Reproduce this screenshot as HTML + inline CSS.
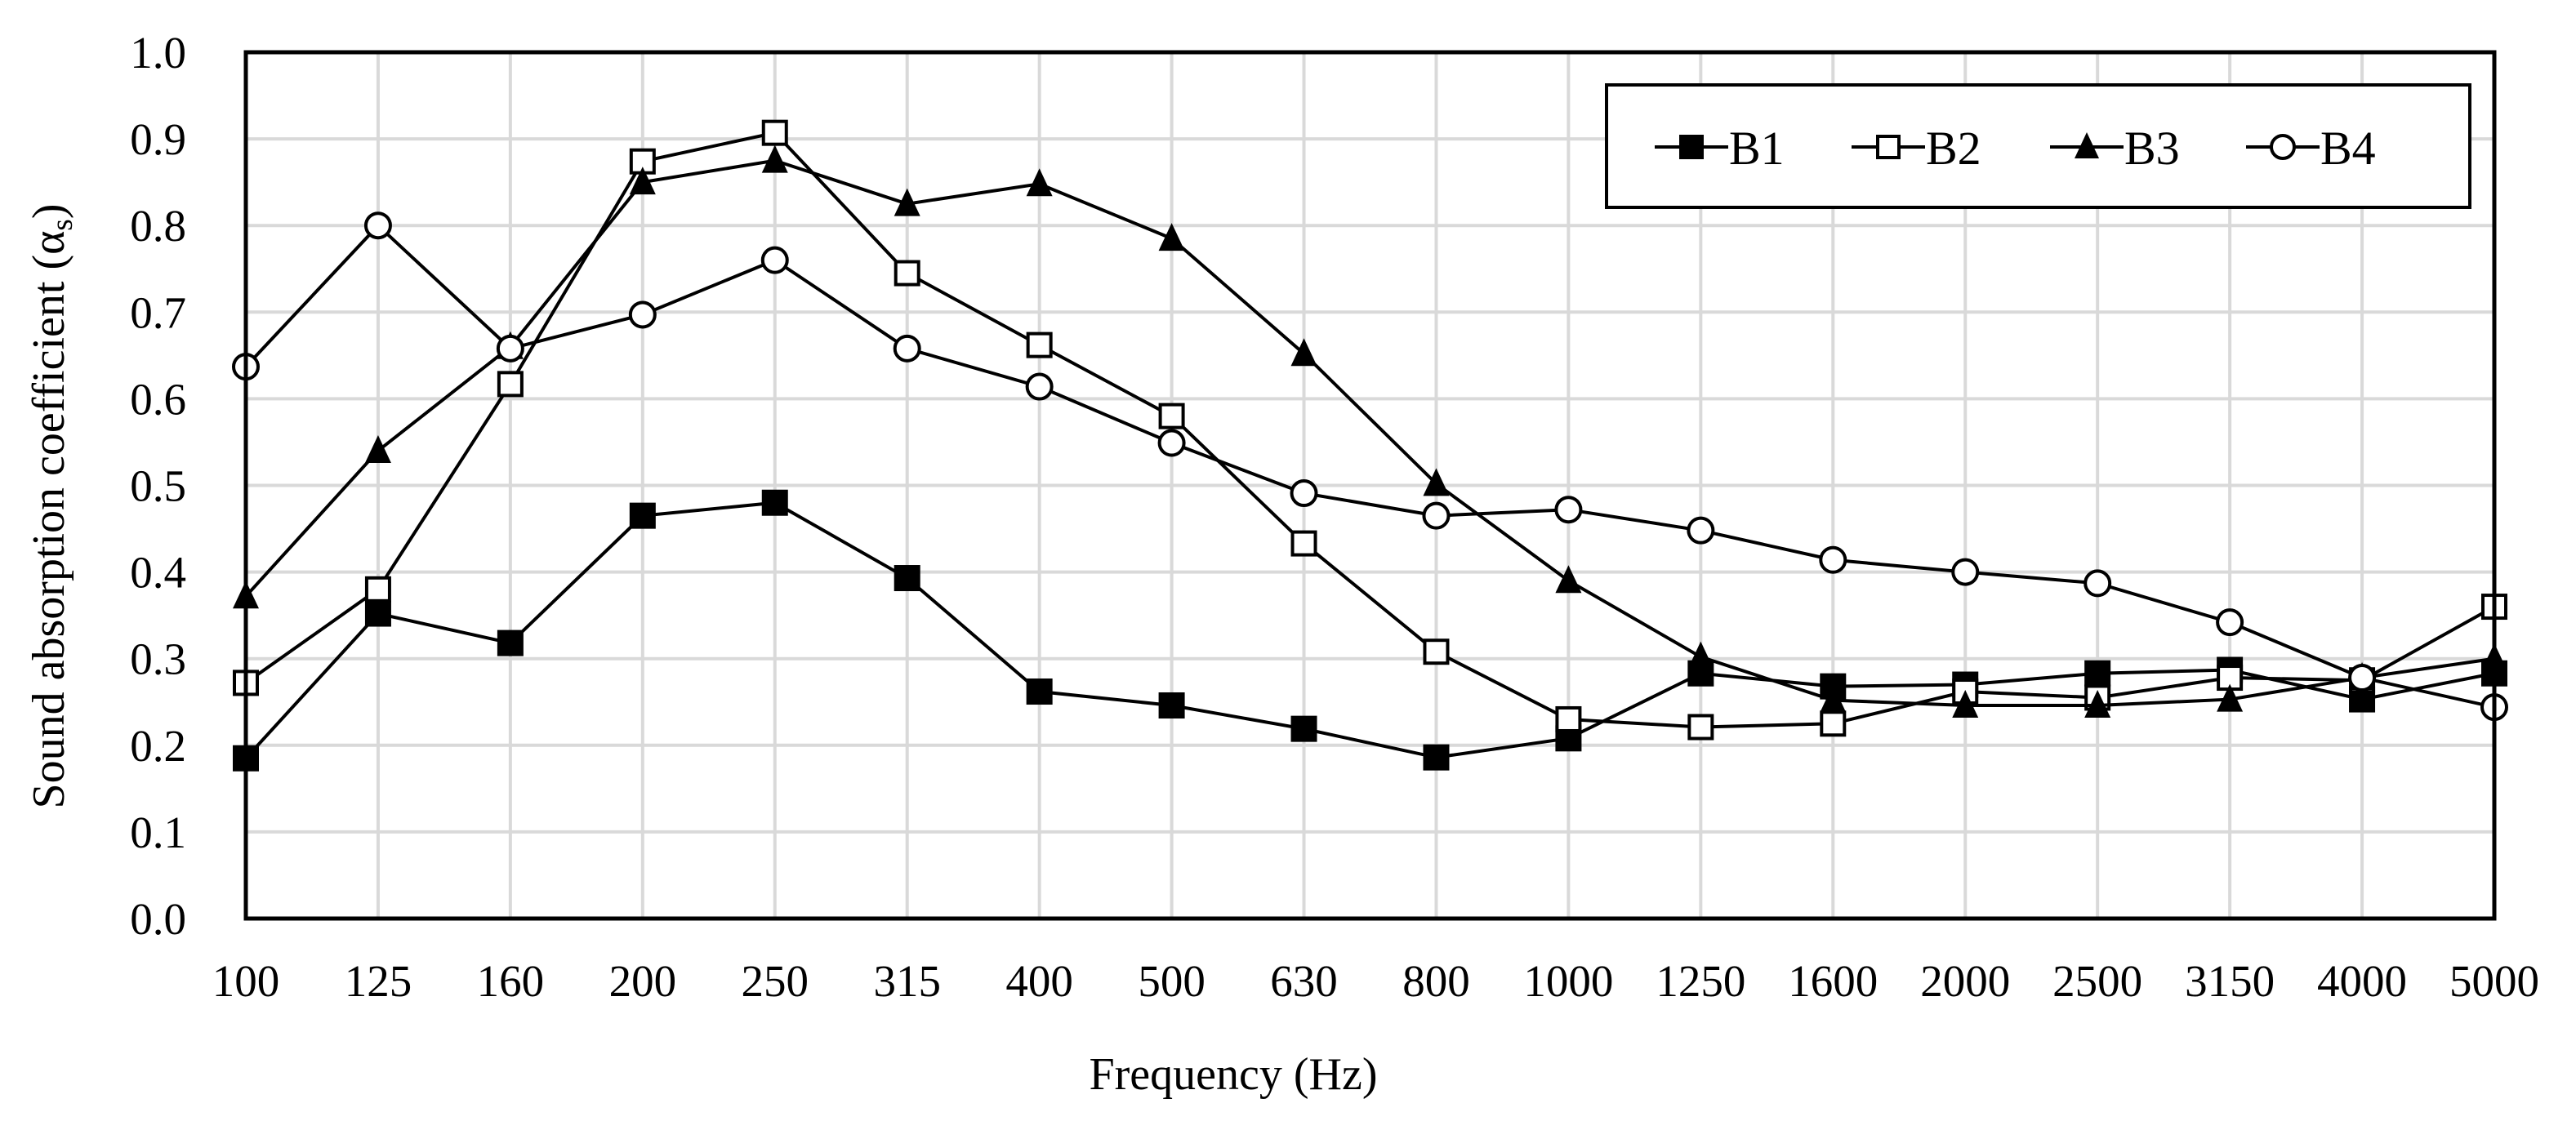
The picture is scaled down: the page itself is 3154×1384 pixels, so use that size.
<!DOCTYPE html>
<html><head><meta charset="utf-8"><style>
html,body{margin:0;padding:0;background:#fff}
svg{display:block}
text{font-family:"Liberation Serif","Times New Roman",serif;fill:#000}
</style></head><body>
<svg id="chart" xmlns="http://www.w3.org/2000/svg" width="3154" height="1384" viewBox="0 0 3154 1384">
<g id="grid"></g>
<g id="series"></g>
<rect x="301" y="64" width="2753" height="1061" fill="none" stroke="#000" stroke-width="5"/>
<g id="yticks"></g>
<g id="xticks"></g>
<text transform="translate(78,620) rotate(-90)" text-anchor="middle" font-size="56">Sound absorption coefficient  (α<tspan font-size="37" dy="10">s</tspan><tspan dy="-10">)</tspan></text>
<text x="1510" y="1334" text-anchor="middle" font-size="56">Frequency  (Hz)</text>
<g id="legend">
<rect x="1967" y="104" width="1057" height="150" fill="#fff" stroke="#000" stroke-width="4"/>
</g>
</svg>
<script>
const categories = ["100","125","160","200","250","315","400","500","630","800","1000","1250","1600","2000","2500","3150","4000","5000"];
const yTicks = [0,0.1,0.2,0.3,0.4,0.5,0.6,0.7,0.8,0.9,1.0];
const seriesNames = ["B1","B2","B3","B4"];
const b1 = [0.185,0.352,0.318,0.465,0.48,0.393,0.262,0.246,0.219,0.186,0.208,0.283,0.268,0.27,0.283,0.287,0.253,0.283];
const b2 = [0.272,0.38,0.617,0.874,0.907,0.745,0.662,0.58,0.433,0.308,0.23,0.221,0.225,0.262,0.255,0.278,0.275,0.36];
const b3 = [0.372,0.54,0.66,0.85,0.875,0.825,0.848,0.785,0.652,0.502,0.39,0.302,0.252,0.246,0.246,0.253,0.278,0.30];
const b4 = [0.637,0.80,0.658,0.697,0.76,0.658,0.614,0.549,0.491,0.465,0.472,0.448,0.414,0.4,0.387,0.342,0.278,0.244];

const NS="http://www.w3.org/2000/svg";
const X0=301,X1=3054,Y0=1125,Y1=64;
function xs(i){return X0+(X1-X0)*i/(categories.length-1);}
function ys(v){return Y0-(Y0-Y1)*v/1.0;}
function mk(tag,attrs,parent){const e=document.createElementNS(NS,tag);for(const k in attrs)e.setAttribute(k,attrs[k]);parent.appendChild(e);return e;}

const grid=document.getElementById('grid');
yTicks.forEach(t=>{if(t>0&&t<1){const l=mk('line',{x1:X0,x2:X1,y1:ys(t),y2:ys(t),stroke:'#d9d9d9','stroke-width':4},grid);

}});
categories.forEach((c,i)=>{if(i>0&&i<categories.length-1){const l=mk('line',{x1:xs(i),x2:xs(i),y1:Y1,y2:Y0,stroke:'#d9d9d9','stroke-width':4},grid);

}});

const yt=document.getElementById('yticks');
yTicks.forEach(t=>{const e=mk('text',{x:228,y:ys(t)+19,'text-anchor':'end','font-size':55},yt);e.textContent=t.toFixed(1);

});
const xt=document.getElementById('xticks');
categories.forEach((c,i)=>{const e=mk('text',{x:xs(i),y:1220,'text-anchor':'middle','font-size':55},xt);e.textContent=c;

});

function marker(type,x,y,parent,s){
  let e;
  if(type==='fsq') e=mk('rect',{x:x-s,y:y-s,width:2*s,height:2*s,fill:'#000'},parent);
  else if(type==='osq') e=mk('rect',{x:x-s+2,y:y-s+2,width:2*s-4,height:2*s-4,fill:'#fff',stroke:'#000','stroke-width':4},parent);
  else if(type==='tri') e=mk('polygon',{points:`${x},${y-s-3} ${x-s},${y+s-1} ${x+s},${y+s-1}`,fill:'#000'},parent);
  else e=mk('circle',{cx:x,cy:y,r:s-1,fill:'#fff',stroke:'#000','stroke-width':4},parent);
  return e;
}
const types=['fsq','osq','tri','circ'];
const data=[b1,b2,b3,b4];
const sg=document.getElementById('series');
data.forEach((d,si)=>{
  const g=mk('g',{},sg);
  
  
  const p=mk('polyline',{points:d.map((v,i)=>xs(i)+','+ys(v)).join(' '),fill:'none',stroke:'#000','stroke-width':4},g);
  
  
  d.forEach((v,i)=>{const m=marker(types[si],xs(i),ys(v),g,16);
    
    });
});

const lg=document.getElementById('legend');
const lx=[2071,2312,2555,2795];
seriesNames.forEach((n,i)=>{
  const g=mk('g',{},lg);
  
  
  mk('line',{x1:lx[i]-45,x2:lx[i]+45,y1:180,y2:180,stroke:'#000','stroke-width':4},g);
  marker(types[i],lx[i],180,g,15);
  const t=mk('text',{x:lx[i]+46,y:201,'font-size':58},g);t.textContent=n;
});
</script>
</body></html>
